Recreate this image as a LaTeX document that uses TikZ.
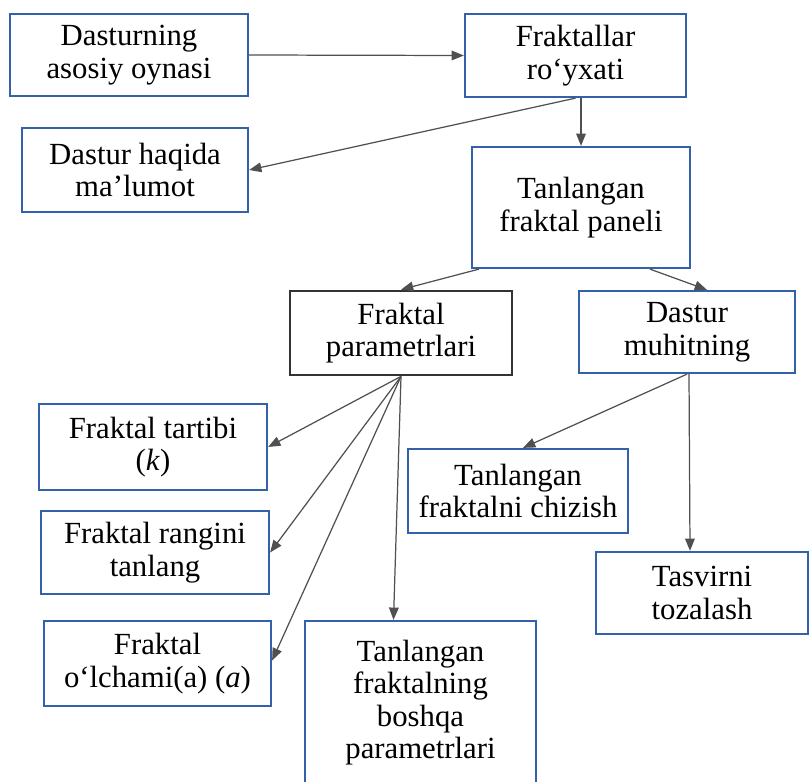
\documentclass[tikz,border=0pt]{standalone}
\usepackage{fontspec}
\setmainfont{Liberation Serif}
\usetikzlibrary{arrows.meta,calc}
\definecolor{boxblue}{RGB}{52,98,170}
\definecolor{linegray}{RGB}{80,80,80}
\begin{document}
\begin{tikzpicture}[x=0.02cm,y=-0.02cm,
  box/.style={draw=boxblue,line width=1.3pt,align=center,inner sep=0pt,
    font=\fontsize{17.5}{18.5}\selectfont},
  arr/.style={draw=linegray,line width=0.7pt,-{Triangle[length=7pt,width=5.5pt]}}]
 \useasboundingbox (0,0) rectangle (810,781);
 % top row
 \node[box,minimum width=4.76cm,minimum height=1.64cm] (main) at (129,55) {Dasturning\\asosiy oynasi};
 \node[box,minimum width=4.42cm,minimum height=1.66cm] (list) at (575.5,55.5) {Fraktallar\\ro‘yxati};
 \node[box,minimum width=4.52cm,minimum height=1.68cm] (about) at (135,170) {Dastur haqida\\ma’lumot};
 \node[box,minimum width=4.36cm,minimum height=2.42cm] (panel) at (581,207.5) {Tanlangan\\fraktal paneli};
 % second level
 \node[box,draw=black!80,line width=1.6pt,minimum width=4.44cm,minimum height=1.68cm] (param) at (401,333) {Fraktal\\parametrlari};
 \node[box,minimum width=4.32cm,minimum height=1.64cm] (env) at (687,332) {Dastur\\muhitning};
 % parameters
 \node[box,minimum width=4.56cm,minimum height=1.72cm] (order) at (153,447) {Fraktal tartibi\\(\textit{k})};
 \node[box,minimum width=4.56cm,minimum height=1.66cm] (colour) at (155,552.5) {Fraktal rangini\\tanlang};
 \node[box,minimum width=4.54cm,minimum height=1.70cm] (size) at (157.5,663.5) {Fraktal\\o‘lchami(a) (\textit{a})};
 \node[box,minimum width=4.62cm,minimum height=3.26cm] (other) at (420.5,702.5) {Tanlangan\\fraktalning\\boshqa\\parametrlari};
 % environment
 \node[box,minimum width=4.40cm,minimum height=1.68cm] (paint) at (518,491) {Tanlangan\\fraktalni chizish};
 \node[box,minimum width=4.24cm,minimum height=1.64cm] (clear) at (702,593) {Tasvirni\\tozalash};
 % connectors
 \draw[arr] (main.east) -- (list.west);
 \draw[arr] (list.south) -- (about.east);
 \draw[arr] (panel.north |- list.south) -- (panel.north);
 \draw[arr] ($(panel.south west)+(8,0)$) -- (param.north);
 \draw[arr] ($(panel.south)+(69,0)$) -- ($(env.north)+(20,0)$);
 \draw[arr] (param.south) -- (order.east);
 \draw[arr] (param.south) -- (colour.east);
 \draw[arr] (param.south) -- ($(size.east)+(0,-3)$);
 \draw[arr] (param.south) -- ($(other.north)+(-27,0)$);
 \draw[arr] (env.south) -- ($(paint.north)+(5,0)$);
 \draw[arr] ($(env.south)+(2,0)$) -- ($(clear.north)+(-12,0)$);
\end{tikzpicture}
\end{document}
